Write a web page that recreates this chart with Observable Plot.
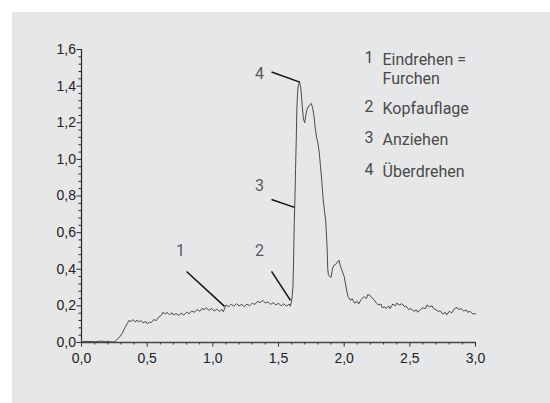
<!DOCTYPE html>
<html>
<head>
<meta charset="utf-8">
<script src="https://cdn.jsdelivr.net/npm/d3@7"></script>
<script src="https://cdn.jsdelivr.net/npm/@observablehq/plot@0.6"></script>
<style>
  html, body { margin: 0; padding: 0; background: #ffffff; }
  #wrap { position: relative; width: 550px; height: 403px; background: #ffffff; overflow: hidden; }
  #panel { position: absolute; left: 12px; top: 12px; right: 0; bottom: 0; background: #e6e7e9; }
  #chart { position: absolute; left: 0; top: 0; }
</style>
</head>
<body>
<div id="wrap"><div id="panel"></div><div id="chart"></div></div>
<script>
// Curve
const curveX = [0,0.05,0.1,0.15,0.18,0.2,0.23,0.25,0.27,0.29,0.31,0.33,0.35,0.36,
0.38,0.39,0.41,0.42,0.44,0.45,0.47,0.49,0.50,0.52,0.53,0.55,0.57,0.59,0.61,0.62,0.64,0.65,0.67,0.69,0.70,0.72,0.74,0.76,0.78,0.80,0.82,0.84,0.86,0.88,0.90,0.92,0.93,0.95,0.97,0.99,1.01,1.03,1.05,1.07,1.08,1.10,1.12,1.14,1.16,1.18,1.20,1.22,1.24,1.26,1.28,1.30,1.32,1.34,1.36,1.38,1.40,1.42,1.44,1.46,1.48,1.50,1.52,1.54,1.56,1.58,1.59,1.60,1.61,1.615,1.62,1.625,1.63,1.635,1.64,1.645,1.65,1.66,1.67,1.68,1.69,1.70,1.71,1.72,1.74,1.75,1.76,1.77,1.78,1.79,1.80,1.81,1.82,1.83,1.84,1.85,1.86,1.87,1.875,1.88,1.89,1.90,1.91,1.92,1.94,1.96,1.97,1.99,2.00,2.01,2.02,2.03,2.05,2.06,2.08,2.10,2.11,2.13,2.15,2.17,2.18,2.20,2.21,2.23,2.24,2.26,2.28,2.29,2.31,2.32,2.34,2.35,2.37,2.39,2.40,2.42,2.44,2.46,2.47,2.49,2.51,2.53,2.55,2.56,2.58,2.60,2.62,2.63,2.65,2.67,2.68,2.70,2.72,2.73,2.75,2.77,2.78,2.80,2.82,2.84,2.86,2.87,2.89,2.91,2.93,2.94,2.96,2.98,3.00];
const curveY = [0.005,0.006,0.004,0.008,0.004,0.007,0.003,0.004,0.015,0.03,0.05,0.08,0.105,0.12,
0.115,0.125,0.112,0.122,0.113,0.12,0.108,0.115,0.102,0.112,0.108,0.125,0.12,0.14,0.15,0.165,0.155,0.165,0.152,0.162,0.15,0.158,0.148,0.16,0.15,0.165,0.158,0.172,0.165,0.18,0.17,0.188,0.178,0.19,0.175,0.186,0.172,0.182,0.17,0.18,0.168,0.205,0.195,0.21,0.198,0.212,0.2,0.208,0.195,0.21,0.2,0.215,0.208,0.225,0.218,0.23,0.215,0.222,0.208,0.218,0.205,0.215,0.2,0.212,0.198,0.21,0.198,0.225,0.30,0.45,0.65,0.78,0.95,1.10,1.28,1.36,1.40,1.425,1.39,1.30,1.22,1.20,1.25,1.28,1.30,1.305,1.28,1.24,1.17,1.12,1.09,1.04,0.96,0.88,0.78,0.72,0.66,0.52,0.40,0.37,0.36,0.355,0.40,0.42,0.43,0.45,0.42,0.38,0.36,0.32,0.28,0.25,0.23,0.24,0.215,0.225,0.21,0.235,0.25,0.24,0.262,0.255,0.245,0.232,0.22,0.205,0.21,0.19,0.195,0.185,0.2,0.185,0.21,0.2,0.215,0.205,0.212,0.195,0.2,0.18,0.185,0.17,0.178,0.165,0.18,0.19,0.185,0.205,0.195,0.2,0.185,0.178,0.168,0.175,0.155,0.165,0.15,0.17,0.162,0.185,0.192,0.18,0.185,0.172,0.178,0.165,0.17,0.155,0.158];

// Axis ticks
const xMajor = [0, 0.5, 1.0, 1.5, 2.0, 2.5, 3.0];
const xMinor = [0.1,0.2,0.3,0.4,0.6,0.7,0.8,0.9,1.1,1.2,1.3,1.4,1.6,1.7,1.8,1.9,2.1,2.2,2.3,2.4,2.6,2.7,2.8,2.9];
const yMajor = [0, 0.2, 0.4, 0.6, 0.8, 1.0, 1.2, 1.4, 1.6];
const yMinor = [0.04,0.08,0.12,0.16,0.24,0.28,0.32,0.36,0.44,0.48,0.52,0.56,0.64,0.68,0.72,0.76,0.84,0.88,0.92,0.96,1.04,1.08,1.12,1.16,1.24,1.28,1.32,1.36,1.44,1.48,1.52,1.56];

// Callout numbers and leader lines (data units)
const calloutLabel = ["1", "2", "3", "4"];
const calloutTextX = [0.754, 1.355, 1.355, 1.355];
const calloutTextY = [0.475, 0.475, 0.825, 1.437];
const leaderX1 = [0.80, 1.447, 1.447, 1.447];
const leaderY1 = [0.388, 0.388, 0.781, 1.477];
const leaderX2 = [1.089, 1.591, 1.622, 1.662];
const leaderY2 = [0.197, 0.230, 0.738, 1.422];

// Legend
const legendNum = ["1", "2", "3", "4"];
const legendText = ["Eindrehen =\nFurchen", "Kopfauflage", "Anziehen", "Überdrehen"];
const legendY = [1.525, 1.258, 1.087, 0.913];
const legendNumX = 2.155;
const legendTextX = 2.292;

const curve = curveX.map((x, i) => ({x, y: curveY[i]}));
const callouts = calloutLabel.map((t, i) => ({t, x: calloutTextX[i], y: calloutTextY[i]}));
const leaders = leaderX1.map((x1, i) => ({x1, y1: leaderY1[i], x2: leaderX2[i], y2: leaderY2[i]}));
const legend = legendNum.map((n, i) => ({n, t: legendText[i], y: legendY[i]}));

const fmt = d => d.toFixed(1).replace(".", ",");
const axisColor = "#2a2a2a";
const annoFont = "Roboto, 'DejaVu Sans', sans-serif";

const chart = Plot.plot({
  width: 550,
  height: 403,
  marginLeft: 81,
  marginRight: 75,
  marginTop: 49,
  marginBottom: 61,
  x: {domain: [0, 3], label: null},
  y: {domain: [0, 1.6], label: null},
  style: {background: "transparent", fontFamily: "'Liberation Sans', Arial, sans-serif", fontSize: "14px", color: "#222"},
  marks: [
    Plot.axisY(yMinor, {tickSize: 2.5, tickFormat: () => "", stroke: axisColor}),
    Plot.axisY(yMajor, {tickSize: 4.5, tickPadding: 1, tickFormat: fmt, stroke: axisColor, fill: "#222", fontSize: 14}),
    Plot.axisX(xMinor, {tickSize: 2.5, tickFormat: () => "", stroke: axisColor}),
    Plot.axisX(xMajor, {tickSize: 4.5, tickPadding: 6, tickFormat: fmt, stroke: axisColor, fill: "#222", fontSize: 14}),
    Plot.ruleX([0], {y1: 0, y2: 1.6, stroke: axisColor, strokeWidth: 1.2}),
    Plot.ruleY([0], {x1: 0, x2: 3, stroke: "#444", strokeWidth: 1.6}),
    Plot.line(curve, {x: "x", y: "y", stroke: "#4a4a4a", strokeWidth: 1}),
    Plot.link(leaders, {x1: "x1", y1: "y1", x2: "x2", y2: "y2", stroke: "#111", strokeWidth: 1.5}),
    Plot.text(callouts, {x: "x", y: "y", text: "t", textAnchor: "middle", lineAnchor: "bottom", fontSize: 16, fontFamily: annoFont, fontWeight: 400, fill: "#5a5a5a"}),
    Plot.text(legend, {x: legendNumX, y: "y", text: "n", textAnchor: "start", lineAnchor: "top", dy: -12, fontSize: 16, fontFamily: annoFont, fontWeight: 400, fill: "#4a4a4a"}),
    Plot.text(legend, {x: legendTextX, y: "y", text: "t", textAnchor: "start", lineAnchor: "top", dy: -12, lineHeight: 1.2, fontSize: 16, fontFamily: annoFont, fontWeight: 400, fill: "#4a4a4a"})
  ]
});
document.getElementById("chart").appendChild(chart);
</script>
</body>
</html>
